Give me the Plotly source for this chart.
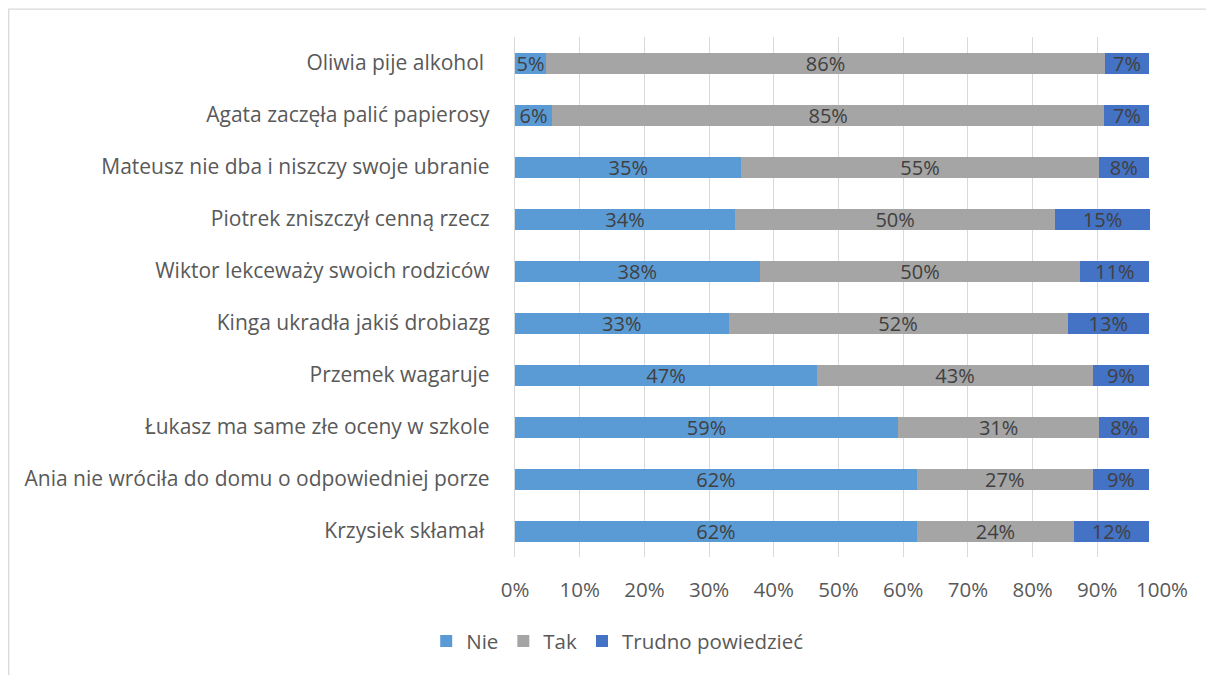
import plotly.graph_objects as go

categories = [
    "Oliwia pije alkohol\u00a0",
    "Agata zaczęła palić papierosy",
    "Mateusz nie dba i niszczy swoje ubranie",
    "Piotrek zniszczył cenną rzecz",
    "Wiktor lekceważy swoich rodziców",
    "Kinga ukradła jakiś drobiazg",
    "Przemek wagaruje",
    "Łukasz ma same złe oceny w szkole",
    "Ania nie wróciła do domu o odpowiedniej porze",
    "Krzysiek skłamał\u00a0",
]
nie = [4.8, 5.7, 35.0, 34.0, 37.8, 33.0, 46.7, 59.2, 62.1, 62.1]
tak = [86.4, 85.4, 55.2, 49.5, 49.6, 52.4, 42.6, 31.1, 27.2, 24.3]
trudno = [6.8, 6.9, 7.8, 14.6, 10.6, 12.6, 8.7, 7.7, 8.7, 11.6]

series = [("Nie", nie, "#5B9BD5"), ("Tak", tak, "#A5A5A5"), ("Trudno powiedzieć", trudno, "#4472C4")]

FONT = "Open Sans"
fig = go.Figure()
for name, vals, color in series:
    fig.add_trace(go.Bar(
        y=categories, x=vals, name=name, orientation="h",
        marker=dict(color=color, line=dict(width=0)),
        text=[f"{v:.0f}%" for v in vals],
        textposition="inside", insidetextanchor="middle",
        constraintext="none",
        textfont=dict(family=FONT, size=20, color="#404040"),
        hoverinfo="skip",
    ))

# page is drawn with an 8px body offset
W, H = 1206, 667
L, T = 507.3, 28.6
pw, ph = 647, 520
R, B = W - L - pw, H - T - ph

fig.update_layout(
    width=W, height=H, barmode="stack", bargap=0.596,
    margin=dict(l=L, r=R, t=T, b=B, pad=0),
    paper_bgcolor="white", plot_bgcolor="white",
    font=dict(family=FONT, color="#595959"),
    showlegend=True,
    legend=dict(orientation="h", x=(610 - L) / pw, xanchor="center",
                y=-(632.7 - T - ph) / ph, yanchor="middle",
                font=dict(family=FONT, size=20.5, color="#595959"),
                itemwidth=30, traceorder="normal"),
    xaxis=dict(range=[0, 100], dtick=10, ticksuffix="%", showgrid=True,
               gridcolor="#d9d9d9", gridwidth=1.3, zeroline=False, showline=False,
               ticks="", ticklabelstandoff=18,
               tickfont=dict(family=FONT, size=20.5, color="#595959"), fixedrange=True),
    yaxis=dict(autorange="reversed", showline=True, linecolor="#d9d9d9", linewidth=1.3,
               ticks="", ticklabelstandoff=20, showgrid=False,
               tickfont=dict(family=FONT, size=21, color="#595959")),
    shapes=[dict(type="rect", xref="paper", yref="paper",
                 x0=(1 - L) / pw, x1=(W + 10 - L) / pw,
                 y0=-(H + 10 - T - ph) / ph, y1=1 + (T - 0.7) / ph,
                 line=dict(color="#d9d9d9", width=1.3), fillcolor="rgba(0,0,0,0)", layer="below")],
)
fig.write_html("out.html")
